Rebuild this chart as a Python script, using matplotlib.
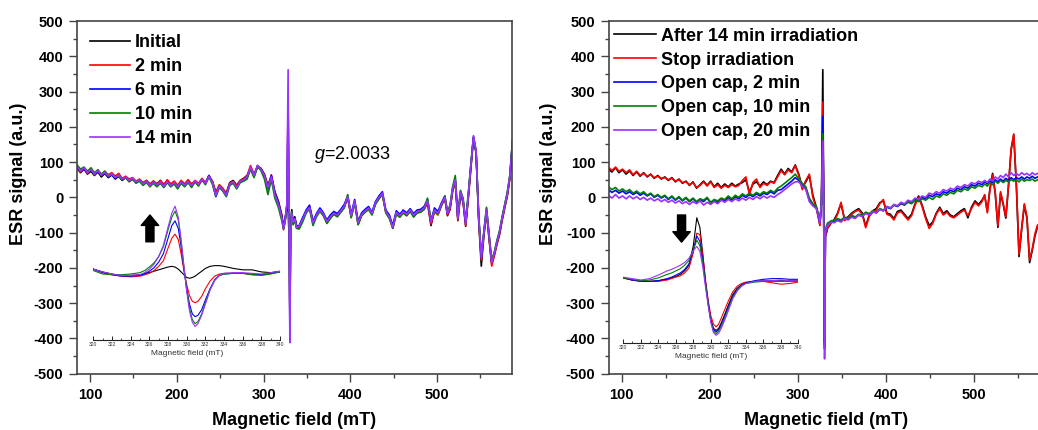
import numpy as np
import matplotlib
matplotlib.use("Agg")
import matplotlib.pyplot as plt
from matplotlib.ticker import MultipleLocator

plt.rcParams['font.family'] = ['Liberation Sans', 'DejaVu Sans']
plt.rcParams['mathtext.fontset'] = 'custom'
plt.rcParams['mathtext.it'] = 'Liberation Sans:italic'
plt.rcParams['mathtext.rm'] = 'Liberation Sans'
plt.rcParams['axes.unicode_minus'] = False

# sampling grid of the field sweep (mT), denser around the g=2.0033 line
field = np.concatenate([np.arange(85, 322, 4),
                        [323, 325, 326.8, 328.3, 329.2, 330.3, 331.2, 332.5, 334, 336, 338],
                        np.arange(341, 510, 4),
                        np.arange(512, 588, 3)])

# ---- left panel: irradiation time series
irr_labels = ['Initial', '2 min', '6 min', '10 min', '14 min']
irr_0 = [82, 70, 80, 66, 74, 62, 72, 58, 68, 56, 64, 52, 60, 48, 56, 46, 52, 42, 50, 40,
         48, 36, 46, 38, 48, 36, 46, 36, 44, 32, 46, 36, 48, 38, 46, 38, 50, 42, 62, 46,
         14, 34, 24, 12, 42, 48, 34, 48, 54, 62, 82, 60, 86, 82, 66, 34, 60, 16, -10, -50,
         -84, -58, -30, -35, -95, -70, -88, -35, -72, -55, -80,
         -84, -60, -42, -26, -70, -50, -36, -50, -70, -56, -46, -50, -40, -28, 0, -54, -12, -76, -50, -40,
         -32, -46, -16, -2, 10, -42, -56, -84, -44, -54, -42, -50, -38, -52, -42, -40, -34, -16, -80, -38,
         -48, -22, -2,
         -52, -34, 18, 45, -66, 8, -14, -82, -2, 84, 168, 126, -64, -195, -108, -42, -118, -188, -164, -134,
         -106, -66, -30, 4, 54, 150]
irr_2 = [86, 72, 82, 68, 80, 64, 78, 62, 74, 64, 70, 60, 68, 54, 60, 52, 56, 46, 52, 42,
         48, 38, 46, 38, 48, 36, 50, 38, 46, 34, 48, 38, 50, 36, 48, 40, 54, 42, 58, 46,
         12, 36, 26, 10, 40, 46, 32, 48, 52, 62, 90, 66, 88, 78, 64, 30, 64, 12, -12, -52,
         -92, -64, -22, 265, -8, -330, -112, -48, -70, -62, -86,
         -86, -64, -42, -30, -74, -52, -38, -52, -72, -58, -48, -54, -42, -28, -2, -56, -14, -76, -52, -42,
         -34, -48, -18, -4, 8, -44, -58, -88, -46, -56, -42, -52, -38, -54, -44, -42, -34, -14, -76, -40,
         -50, -24, -4,
         -50, -32, 20, 48, -64, 10, -12, -80, 0, 86, 170, 128, -62, -178, -105, -40, -115, -195, -166, -132,
         -104, -64, -28, 6, 56, 154]
irr_6 = [84, 76, 80, 72, 76, 68, 72, 65, 69, 58, 64, 54, 60, 50, 57, 46, 52, 42, 47, 36,
         44, 32, 41, 33, 42, 29, 43, 31, 40, 28, 42, 32, 43, 31, 45, 35, 50, 38, 62, 40,
         2, 30, 20, 4, 36, 42, 26, 44, 48, 56, 84, 60, 90, 82, 60, 24, 62, 12, -14, -55,
         -86, -60, -25, 240, -5, -360, -105, -42, -72, -58, -82,
         -80, -58, -36, -22, -68, -46, -30, -44, -64, -50, -40, -46, -34, -20, 4, -48, -6, -68, -44, -34,
         -26, -42, -12, 4, 16, -36, -50, -80, -38, -48, -36, -44, -32, -46, -36, -34, -26, -6, -66, -30,
         -40, -16, 4,
         -44, -26, 26, 52, -58, 16, -6, -72, 6, 92, 172, 130, -54, -170, -98, -32, -108, -182, -158, -126,
         -98, -58, -22, 12, 62, 158]
irr_10 = [92, 80, 86, 74, 84, 70, 78, 66, 74, 62, 64, 58, 60, 50, 56, 44, 52, 40, 46, 34,
          42, 30, 40, 30, 40, 28, 42, 30, 38, 24, 40, 30, 42, 28, 44, 32, 50, 36, 58, 38,
          4, 28, 18, 2, 34, 40, 24, 42, 46, 52, 80, 56, 88, 76, 52, 8, 50, -2, -28, -66,
          -90, -66, -30, 175, -10, -320, -100, -40, -78, -65, -88,
          -90, -70, -45, -32, -80, -55, -40, -52, -74, -60, -48, -55, -42, -30, 8, -58, -15, -78, -52, -42,
          -34, -50, -20, -4, 8, -44, -60, -88, -48, -56, -45, -52, -40, -56, -44, -42, -34, -2, -64, -40,
          -48, -24, 4,
          -40, -22, 30, 62, -55, 20, -2, -68, 10, 95, 170, 128, -50, -165, -95, -28, -105, -178, -155, -122,
          -95, -55, -20, 15, 65, 165]
irr_14 = [88, 74, 84, 70, 79, 66, 76, 63, 71, 60, 67, 56, 63, 52, 58, 48, 55, 44, 50, 38,
          46, 33, 43, 35, 44, 31, 45, 33, 42, 30, 44, 34, 45, 33, 47, 37, 52, 40, 60, 44,
          6, 32, 22, 6, 38, 44, 28, 46, 50, 58, 86, 62, 91, 80, 62, 28, 58, 8, -18, -58,
          -88, -62, -20, 362, 0, -412, -110, -45, -70, -60, -85,
          -82, -62, -40, -28, -72, -50, -35, -48, -68, -55, -45, -50, -38, -25, 2, -52, -10, -72, -48, -38,
          -30, -45, -15, 0, 12, -40, -55, -85, -42, -52, -40, -48, -35, -50, -40, -38, -30, -10, -70, -35,
          -45, -20, 0,
          -46, -28, 25, 50, -60, 15, -8, -75, 5, 90, 175, 133, -56, -172, -100, -35, -110, -185, -160, -128,
          -100, -60, -25, 10, 60, 160]

# ---- right panel: after irradiation / opening the cap
rec_labels = ['After 14 min irradiation', 'Stop irradiation', 'Open cap, 2 min',
              'Open cap, 10 min', 'Open cap, 20 min']
rec_after = [80, 72, 84, 70, 78, 66, 75, 62, 72, 60, 70, 58, 66, 54, 62, 52, 58, 48, 56, 44,
             52, 40, 46, 34, 44, 26, 36, 46, 34, 46, 30, 40, 28, 38, 30, 40, 32, 38, 42, 50,
             14, 38, 44, 32, 44, 36, 46, 42, 62, 80, 66, 82, 72, 92, 66, 28, 44, 62, 6, -28,
             -52, -78, -10, 362, 0, -410, -110, -100, -85, -80, -70,
             -64, -45, -18, -62, -55, -45, -38, -32, -44, -82, -50, -38, -32, -15, -10, -45, -48, -60, -40, -36,
             -48, -60, -48, -18, 4, -22, -55, -80, -70, -45, -28, -46, -38, -50, -55, -46, -38, -32, -58, -28,
             -10, -20, -8,
             5, -40, 25, 68, 10, -85, 12, -20, -59, 30, 134, 177, 30, -168, -90, -22, -60, -185, -150, -110,
             -83, -80, -75, -70, -62, -55]
rec_stop = [86, 76, 86, 74, 80, 70, 78, 64, 74, 62, 68, 60, 64, 56, 60, 54, 56, 50, 54, 46,
            50, 42, 44, 36, 42, 28, 34, 44, 32, 44, 28, 36, 26, 34, 28, 36, 30, 34, 48, 58,
            8, 42, 52, 28, 40, 34, 44, 40, 58, 76, 64, 78, 70, 90, 62, 22, 48, 66, 0, -32,
            -55, -80, -12, 270, 0, -420, -108, -98, -84, -78, -72,
            -68, -48, -14, -66, -58, -48, -40, -36, -48, -86, -54, -42, -36, -18, -6, -48, -52, -64, -44, -40,
            -52, -64, -52, -22, 0, -26, -60, -88, -74, -48, -32, -50, -42, -54, -58, -50, -42, -36, -52, -32,
            -14, -24, -12,
            8, -44, 22, 64, 14, -80, 16, -16, -55, 34, 138, 180, 36, -162, -86, -18, -56, -178, -146, -104,
            -78, -76, -72, -66, -60, -52]
rec_open2 = [22, 14, 20, 12, 18, 10, 16, 8, 14, 6, 12, 4, 10, 0, 6, -2, 4, -6, 2, -8,
             0, -10, -2, -12, -4, -14, -6, -12, -2, -16, -8, -14, -4, -10, 0, -8, 2, -4, 6, 0,
             8, 2, 10, 4, 12, 8, 16, 10, 20, 22, 30, 38, 46, 56, 48, 36, 26, -8, -22, -30,
             -48, -72, -15, 230, 0, -430, -100, -85, -75, -72, -68,
             -70, -64, -68, -58, -62, -54, -58, -50, -54, -44, -48, -40, -44, -34, -38, -28, -32, -22, -26, -18,
             -22, -12, -16, -6, -10, 0, -4, 6, 2, 10, 6, 16, 12, 20, 16, 26, 22, 30, 26, 36,
             32, 40, 36,
             44, 38, 46, 42, 50, 44, 52, 46, 54, 48, 56, 50, 56, 52, 58, 52, 58, 54, 60, 54,
             58, 56, 60, 56, 58, 56]
rec_open10 = [30, 22, 28, 18, 24, 16, 22, 12, 18, 10, 16, 6, 12, 2, 8, 0, 6, -4, 4, -6,
              2, -8, 0, -10, -2, -12, -4, -8, 0, -14, -6, -10, -2, -6, 4, -4, 6, 0, 10, 4,
              12, 6, 14, 8, 16, 12, 20, 14, 26, 32, 40, 48, 56, 66, 52, 40, 30, -2, -18, -26,
              -44, -68, -15, 180, 0, -400, -95, -80, -72, -70, -66,
              -66, -60, -64, -56, -60, -50, -56, -48, -50, -42, -46, -38, -42, -32, -36, -26, -30, -22, -24, -16,
              -20, -14, -18, -8, -12, -4, -8, 0, -6, 4, 0, 10, 6, 14, 10, 20, 16, 24, 20, 30,
              26, 34, 30,
              38, 32, 42, 36, 46, 40, 48, 42, 48, 44, 50, 46, 50, 44, 52, 46, 50, 48, 52, 46,
              50, 48, 52, 48, 50, 48]
rec_open20 = [6, -2, 8, -2, 4, -4, 4, -4, 2, -6, 0, -8, -2, -10, -4, -12, -6, -14, -8, -16,
              -10, -18, -12, -20, -12, -18, -10, -22, -14, -20, -12, -18, -8, -14, -6, -12, -4, -10, -2, -8,
              0, -6, 2, -4, 4, -2, 4, 0, 8, 14, 22, 30, 38, 44, 44, 32, 22, -12, -24, -32,
              -50, -74, -12, 160, 0, -458, -100, -85, -78, -74, -70,
              -72, -66, -70, -60, -64, -56, -60, -50, -54, -46, -50, -40, -44, -34, -38, -26, -30, -20, -24, -14,
              -18, -8, -12, -2, -6, 4, 0, 12, 8, 16, 12, 22, 18, 26, 22, 32, 28, 36, 32, 42,
              38, 46, 42,
              48, 42, 52, 46, 58, 52, 62, 56, 66, 58, 70, 62, 68, 62, 70, 64, 68, 62, 70, 64,
              68, 64, 70, 66, 68, 66]

# ---- zoomed spectra of the g=2.0033 line (insets)
zoom_field = [320, 321, 322, 323, 324, 325, 325.5, 326, 326.5, 327, 327.5, 328, 328.4, 328.75,
              329.1, 329.4, 329.7, 330, 330.3, 330.6, 330.9, 331.2, 331.6, 332, 332.5, 333,
              333.5, 334, 335, 336, 337, 338, 339, 340]
zl_0 = [1, -1, -2.5, -3.5, -3.5, -3, -2, -1.5, -0.5, 0.5, 1.5, 2.5, 3, 2.5, 1, -1, -3, -5, -5.5, -5,
        -4, -2.5, -0.5, 1.5, 3, 3.5, 3.5, 3, 1.5, 0.5, 0.5, -1, -1.5, -0.5]
zl_2 = [1, -1.5, -3, -4, -4.5, -4, -3, -2, 0, 3, 7, 16, 23, 26, 22, 12, 0, -10, -18, -22,
        -23, -22, -18.5, -13, -7.5, -4, -2.5, -2, -2, -2, -3, -3, -2, -1]
zl_6 = [1, -1.5, -3, -4, -4, -3.5, -2.5, -0.5, 2, 6, 12, 23, 32, 35.5, 30, 17, 1, -13, -24, -31,
        -33, -32, -28, -21, -13, -6.5, -3.5, -2.5, -2, -2, -2.5, -3, -2, -1]
zl_10 = [0, -2.5, -3, -3, -2.5, -1.5, 0, 2.5, 5.5, 10, 17, 29, 38, 42.5, 36, 21, 3, -14, -27, -35,
         -38, -36.5, -31, -23, -13.5, -7, -3.5, -2.5, -2, -2, -3, -3.5, -2.5, -1]
zl_14 = [1, -1, -2.5, -3.5, -3.5, -3, -1.5, 1, 4.5, 10, 18, 31, 41, 46, 38, 22, 3, -15, -29, -37,
         -40, -38, -32, -24, -14, -7, -3.5, -2, -1.5, -1.5, -2, -2.5, -1.5, -0.5]
zr_after = [1, -0.5, -1, -1.5, -1, 0, 1, 2, 3.5, 6, 10, 24, 44, 37, 17, -2, -17, -29, -35, -36.5,
            -35, -31, -25, -18.5, -11, -6.5, -4, -2.5, -1.5, -1, -1, -1, -1, -1]
zr_stop = [1, -0.5, -1.5, -1.5, -1.5, -0.5, 0.5, 1.5, 2.5, 4.5, 8, 19, 33, 32, 16, -1, -15, -26, -32, -34,
           -32, -27.5, -21.5, -15.5, -9, -5, -3, -2, -1.5, -1.5, -2.5, -3.5, -3, -2]
zr_open2 = [1, -0.5, -1.5, -1.5, -1, 0.5, 1.5, 3, 4.5, 7, 11, 21, 31, 27, 13, -3, -17, -29, -36, -37.5,
            -36, -32, -26, -19.5, -12, -7, -4, -2.5, -1, 0, 0.5, 0.5, 0, 0]
zr_open10 = [1, 0, -1, -0.5, 1, 3.5, 4.5, 6, 7.5, 10, 13.5, 21, 28, 24, 11, -4, -18, -30, -37, -38.8,
             -37, -33.5, -27.5, -21, -13, -8, -4.5, -3, -2, -1.5, -1.5, -1.5, -1.5, -1.5]
zr_open20 = [1.5, 0.5, -0.5, 0.5, 3, 6, 7, 8.5, 10, 12, 15, 20.5, 23.5, 20, 8, -6, -19, -31, -38, -40,
             -38.5, -35, -29, -22.5, -14, -8.5, -5, -3, -1.5, -1, -1, -0.5, -1, -1]

colors = ['#000000', '#FF0000', '#0000FF', '#008000', '#9933FF']
spine_col = '#444444'


def style_main(ax, xlim):
    ax.set_xlim(*xlim)
    ax.set_ylim(-500, 500)
    ax.xaxis.set_major_locator(MultipleLocator(100))
    ax.xaxis.set_minor_locator(MultipleLocator(50))
    ax.yaxis.set_major_locator(MultipleLocator(100))
    ax.yaxis.set_minor_locator(MultipleLocator(50))
    ax.tick_params(which='major', direction='out', length=5.5, width=1.0, color=spine_col,
                   labelsize=10.5, pad=4.5)
    ax.tick_params(which='minor', direction='out', length=3, width=1.0, color=spine_col)
    ax.tick_params(top=False, right=False)
    for lab in ax.get_xticklabels() + ax.get_yticklabels():
        lab.set_fontweight('bold')
    for s in ax.spines.values():
        s.set_color(spine_col)
        s.set_linewidth(1.2)
    ax.set_xlabel('Magnetic field (mT)', fontsize=13, fontweight='bold')
    ax.set_ylabel('ESR signal (a.u.)', fontsize=13, fontweight='bold')
    ax.xaxis.set_label_coords(0.5, -0.108)


def style_inset(ins, ylim):
    ins.set_xlim(320, 340)
    ins.set_ylim(*ylim)
    ins.patch.set_alpha(0)
    for side in ['left', 'right', 'top']:
        ins.spines[side].set_visible(False)
    ins.spines['bottom'].set_color('#222222')
    ins.spines['bottom'].set_linewidth(0.8)
    ins.set_yticks([])
    ins.xaxis.set_major_locator(MultipleLocator(2))
    ins.xaxis.set_minor_locator(MultipleLocator(1))
    ins.tick_params(axis='x', which='major', direction='in', length=3, width=0.6,
                    labelsize=3.6, pad=1.5, labelcolor='#333333')
    ins.tick_params(axis='x', which='minor', direction='in', length=1.5, width=0.5)
    ins.set_xlabel('Magnetic field (mT)', fontsize=6, color='#333333', labelpad=2)


fig = plt.figure(figsize=(10.38, 4.30), dpi=100)
axl = fig.add_axes([0.0745, 0.131, 0.4185, 0.820])
axr = fig.add_axes([0.587, 0.131, 0.4185, 0.820])

for ys, lab, c in zip([irr_0, irr_2, irr_6, irr_10, irr_14], irr_labels, colors):
    axl.plot(field, ys, color=c, lw=1.2, label=lab)
for ys, lab, c in zip([rec_after, rec_stop, rec_open2, rec_open10, rec_open20], rec_labels, colors):
    axr.plot(field, ys, color=c, lw=1.2, label=lab)

style_main(axl, (85.3, 586.1))
style_main(axr, (86, 579))
axl.yaxis.set_label_coords(-0.116, 0.566)
axr.yaxis.set_label_coords(-0.120, 0.566)

axl.text(358, 123, r'$g$=2.0033', fontsize=13, va='center', ha='left')

axl.legend(loc='upper left', bbox_to_anchor=(0.029, 0.962), frameon=False,
           prop={'weight': 'bold', 'size': 13}, handlelength=2.2, handletextpad=0.3,
           labelspacing=0.38, borderpad=0, borderaxespad=0)
axr.legend(loc='upper left', bbox_to_anchor=(0.011, 0.981), frameon=False,
           prop={'weight': 'bold', 'size': 13}, handlelength=2.3, handletextpad=0.3,
           labelspacing=0.38, borderpad=0, borderaxespad=0)

# insets with the expanded central line
insl = axl.inset_axes([0.0368, 0.096, 0.430, 0.397])
for ys, c in zip([zl_0, zl_2, zl_6, zl_10, zl_14], colors):
    insl.plot(zoom_field, ys, color=c, lw=0.8)
style_inset(insl, (-49.5, 50.5))

insr = axr.inset_axes([0.0322, 0.087, 0.403, 0.397])
for ys, c in zip([zr_after, zr_stop, zr_open2, zr_open10, zr_open20], colors):
    insr.plot(zoom_field, ys, color=c, lw=0.8)
style_inset(insr, (-45.5, 54.5))

# arrows showing the trend of the central line
arrow = 'simple,head_width=1.25,head_length=0.75,tail_width=0.58'
axl.annotate('', xy=(169, -50), xytext=(169, -126),
             arrowprops=dict(arrowstyle=arrow, color='black', shrinkA=0, shrinkB=0))
axr.annotate('', xy=(168, -127), xytext=(168, -50),
             arrowprops=dict(arrowstyle=arrow, color='black', shrinkA=0, shrinkB=0))

fig.savefig('out.png', dpi=100)
